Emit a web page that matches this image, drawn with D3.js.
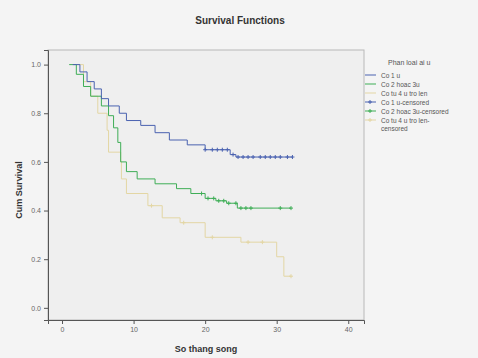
<!DOCTYPE html>
<html>
<head>
<meta charset="utf-8">
<script src="https://cdn.jsdelivr.net/npm/d3@7"></script>
<style>
  html, body { margin: 0; padding: 0; background: #f4f4f4; }
  svg { display: block; font-family: "Liberation Sans", Arial, sans-serif; }
</style>
</head>
<body>
<div id="chart"></div>
<script>
// step points [month, cumulative survival]
const groups = ['Co 1 u', 'Co 2 hoac 3u', 'Co tu 4 u tro len'];
const blueSteps = [[1.5, 1.0], [2.5, 0.97], [3.5, 0.93], [4.5, 0.90], [5.5, 0.86], [6.5, 0.83], [8, 0.80], [9, 0.77],
  [11, 0.75], [13, 0.72], [15, 0.69], [17.5, 0.67], [20, 0.65], [23.5, 0.63], [24.3, 0.62], [32.2, 0.62]];
const greenSteps = [[1, 1.0], [2, 0.96], [3, 0.91], [4, 0.87], [5.5, 0.83], [6.5, 0.79], [7.2, 0.74], [7.8, 0.68],
  [8.2, 0.60], [9, 0.56], [10.5, 0.53], [13, 0.51], [16, 0.49], [18, 0.47], [20, 0.45], [21.5, 0.44], [23, 0.43],
  [24.5, 0.41], [32, 0.41]];
const beigeSteps = [[2, 1.0], [3, 0.93], [4, 0.87], [5, 0.80], [6.3, 0.73], [6.5, 0.64], [8.2, 0.60], [8.3, 0.53],
  [9, 0.47], [12, 0.42], [14, 0.37], [16.5, 0.35], [20, 0.29], [25, 0.27], [30, 0.21], [31, 0.13], [32, 0.13]];
const blueCensored = [20, 21, 21.7, 22.4, 23.1, 23.9, 24.6, 25.3, 26, 26.7, 27.7, 28.4, 29.1, 29.8, 30.5, 31.5, 32.2];
const greenCensored = [19.5, 20.4, 21.2, 21.9, 22.6, 23.3, 24.3, 25, 25.7, 26.4, 30.5, 32];
const beigeCensored = [12.5, 17, 21, 26, 28, 32];
const yTicks = [0, 0.2, 0.4, 0.6, 0.8, 1.0];
const xTicks = [0, 10, 20, 30, 40];

const W = 478, H = 358;
const frame = { left: 48, top: 50, right: 364, bottom: 320 };
const blue = '#4a62b0', green = '#3fae57', beige = '#e3d6a4';

const svg = d3.select('#chart').append('svg')
  .attr('width', W)
  .attr('height', H);

svg.append('rect').attr('width', W).attr('height', H).attr('fill', '#f4f4f4');

const x = d3.scaleLinear().domain([-1.96, 42.2]).range([frame.left, frame.right]);
const y = d3.scaleLinear().domain([-0.05, 1.06]).range([frame.bottom, frame.top]);

// plot area
svg.append('rect')
  .attr('x', frame.left).attr('y', frame.top)
  .attr('width', frame.right - frame.left).attr('height', frame.bottom - frame.top)
  .attr('fill', '#efefef')
  .attr('stroke', '#b8b8b8')
  .attr('stroke-width', 1);

// title
svg.append('text')
  .attr('x', 240).attr('y', 24)
  .attr('text-anchor', 'middle')
  .style('font-size', '10px').style('font-weight', 'bold').style('fill', '#333')
  .text('Survival Functions');

// Y axis
const yAxis = svg.append('g')
  .attr('transform', `translate(${frame.left},0)`)
  .call(d3.axisLeft(y).tickValues(yTicks).tickFormat(d3.format('.1f')).tickSize(4).tickPadding(3));
yAxis.select('.domain').attr('stroke', '#555');
yAxis.selectAll('line').attr('stroke', '#555');
yAxis.selectAll('text').style('font-size', '7px').style('fill', '#666');

// X axis
const xAxis = svg.append('g')
  .attr('transform', `translate(0,${frame.bottom})`)
  .call(d3.axisBottom(x).tickValues(xTicks).tickSize(4).tickPadding(3));
xAxis.select('.domain').attr('stroke', '#555');
xAxis.selectAll('line').attr('stroke', '#555');
xAxis.selectAll('text').style('font-size', '7px').style('fill', '#666');

svg.append('text')
  .attr('transform', `translate(22,${(frame.top + frame.bottom) / 2 + 5}) rotate(-90)`)
  .attr('text-anchor', 'middle')
  .style('font-size', '9px').style('font-weight', 'bold').style('fill', '#333')
  .text('Cum Survival');

svg.append('text')
  .attr('x', 206).attr('y', 352)
  .attr('text-anchor', 'middle')
  .style('font-size', '9px').style('font-weight', 'bold').style('fill', '#333')
  .text('So thang song');

// curves
const line = d3.line()
  .x(d => x(d[0]))
  .y(d => y(d[1]))
  .curve(d3.curveStepAfter);

const series = [
  { steps: beigeSteps, censored: beigeCensored, color: beige },
  { steps: greenSteps, censored: greenCensored, color: green },
  { steps: blueSteps, censored: blueCensored, color: blue }
];

function survivalAt(steps, t) {
  let s = steps[0][1];
  steps.forEach(p => { if (p[0] <= t) s = p[1]; });
  return s;
}

series.forEach(s => {
  svg.append('path')
    .datum(s.steps)
    .attr('fill', 'none')
    .attr('stroke', s.color)
    .attr('stroke-width', 1)
    .attr('d', line);

  svg.selectAll(null)
    .data(s.censored)
    .enter()
    .append('path')
    .attr('transform', t => `translate(${x(t)},${y(survivalAt(s.steps, t))})`)
    .attr('d', 'M-2,0H2M0,-2V2')
    .attr('stroke', s.color)
    .attr('stroke-width', 1);
});

// legend
const legend = svg.append('g').attr('transform', 'translate(0,0)');
legend.append('text')
  .attr('x', 388).attr('y', 65)
  .style('font-size', '7px').style('fill', '#555')
  .text('Phan loai ai u');

const legendItems = [
  { label: groups[0], color: blue, kind: 'line' },
  { label: groups[1], color: green, kind: 'line' },
  { label: groups[2], color: beige, kind: 'line' },
  { label: groups[0] + '-censored', color: blue, kind: 'cens' },
  { label: groups[1] + '-censored', color: green, kind: 'cens' },
  { label: [groups[2] + '-', 'censored'], color: beige, kind: 'cens' }
];

legendItems.forEach((d, i) => {
  const ly = 75 + i * 9;
  legend.append('line')
    .attr('x1', 365).attr('x2', 376)
    .attr('y1', ly).attr('y2', ly)
    .attr('stroke', d.color).attr('stroke-width', 1);
  if (d.kind === 'cens') {
    legend.append('path')
      .attr('transform', `translate(370,${ly})`)
      .attr('d', 'M-2,0H2M0,-2V2')
      .attr('stroke', d.color);
  }
  const txt = legend.append('text')
    .attr('x', 381).attr('y', ly + 2.5)
    .style('font-size', '6.5px').style('fill', '#555');
  const parts = Array.isArray(d.label) ? d.label : [d.label];
  parts.forEach((p, j) => {
    txt.append('tspan').attr('x', 381).attr('dy', j === 0 ? 0 : 8).text(p);
  });
});
</script>
</body>
</html>
